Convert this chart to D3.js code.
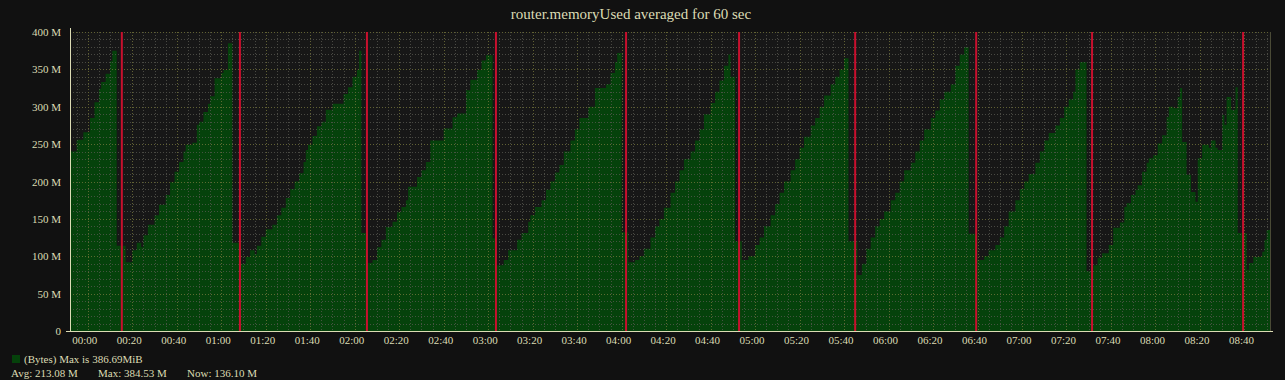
<!DOCTYPE html>
<html lang='en'>
  <head>
    <style type='text/css'>
      body {margin: 0; background-color: #111;}
      svg text {font-family: 'Liberation Serif', serif; fill: #dcdcb4;}
    </style>
  </head>
  <body>
    <svg id='chart' width='1285' height='380'></svg>

    <script src='https://cdn.jsdelivr.net/npm/d3@7'></script>
    <script type='text/javascript'>
        // minutes after 00:00 where each 60 sec average starts, and its value (M)
        var stepMinutes = [
          -8, -5, -2, 1, 3, 5, 6, 8, 10, 11, 13,
          17, 20, 22, 24, 25, 27, 30, 32, 35, 37, 39, 41, 43, 44, 47, 49, 50, 52, 54, 55, 57, 60, 61, 63, 65,
          69, 71, 73, 75, 76, 78, 80, 83, 85, 87, 89, 91, 93, 95, 97, 98, 99, 101, 103, 105, 107, 110, 115, 117, 119, 121, 122, 123,
          126, 128, 130, 132, 134, 137, 139, 141, 143, 144, 148, 150, 152, 154, 160, 164, 166, 170, 172, 175, 177, 179, 182,
          184, 187, 189, 193, 195, 198, 199, 201, 204, 206, 208, 210, 212, 214, 217, 219, 221, 225, 228, 233, 235, 237, 238, 240,
          243, 246, 248, 250, 253, 255, 257, 259, 262, 264, 266, 268, 271, 273, 275, 277, 280, 282, 284, 286, 288, 289, 291,
          294, 297, 300, 302, 304, 307, 309, 311, 313, 316, 318, 320, 322, 325, 327, 329, 331, 334, 336, 338, 340, 342,
          346, 348, 350, 352, 354, 356, 358, 361, 363, 365, 367, 370, 372, 374, 376, 379, 381, 383, 385, 388, 390, 392, 394, 396,
          400, 403, 405, 408, 410, 412, 414, 417, 419, 421, 423, 426, 428, 430, 432, 435, 437, 439, 441, 443, 444, 446, 449,
          452, 454, 456, 459, 461, 464, 466, 467, 469, 471, 472, 474, 476, 477, 479, 481, 483, 485, 486, 488, 490, 491, 492,
          494, 496, 498, 499, 501, 504, 505, 507, 508, 510, 511, 512, 514, 516, 517,
          521, 522, 524, 528, 529, 530
        ];
        var memoryUsedM = [
          240, 256, 266, 285, 306, 324, 333, 344, 361, 375, 114,
          92, 108, 118, 112, 128, 142, 155, 169, 182, 199, 213, 226, 240, 249, 252, 276, 280, 293, 304, 314, 338, 345, 349, 385, 118,
          90, 99, 108, 103, 114, 126, 136, 142, 155, 165, 178, 190, 200, 211, 226, 242, 249, 261, 274, 280, 296, 304, 317, 326, 340, 349, 375, 131,
          91, 95, 112, 122, 139, 146, 159, 166, 175, 193, 206, 215, 226, 255, 271, 286, 291, 322, 336, 349, 362, 369, 124,
          88, 95, 108, 122, 131, 146, 155, 166, 175, 189, 200, 212, 222, 240, 255, 270, 285, 300, 325, 330, 345, 360, 372, 132,
          92, 95, 100, 110, 125, 140, 150, 165, 185, 200, 215, 230, 240, 255, 270, 290, 305, 320, 335, 355, 370, 340, 120,
          95, 100, 115, 125, 140, 155, 170, 185, 200, 215, 230, 245, 260, 275, 285, 300, 315, 330, 340, 350, 365, 120,
          75, 90, 110, 125, 140, 150, 160, 175, 185, 200, 215, 225, 240, 255, 270, 285, 295, 310, 320, 330, 355, 370, 380, 130,
          95, 100, 108, 115, 125, 140, 160, 175, 190, 200, 210, 225, 240, 255, 265, 275, 285, 300, 310, 320, 350, 360, 80,
          88, 98, 104, 115, 138, 145, 166, 171, 182, 189, 195, 213, 225, 231, 235, 251, 262, 286, 300, 298, 313, 325, 253,
          209, 186, 173, 231, 249, 245, 255, 245, 242, 289, 276, 313, 296, 326, 131,
          82, 91, 99, 106, 122, 135
        ];
        // router restarts (minutes after 00:00)
        var restartMinutes = [15.3, 68.4, 125.5, 183.5, 242, 292.8, 345, 399.4, 451.5, 519.4];

        var yTicks = [0, 50, 100, 150, 200, 250, 300, 350, 400];
        var xTickLabels = ['00:00', '00:20', '00:40', '01:00', '01:20', '01:40', '02:00', '02:20', '02:40',
          '03:00', '03:20', '03:40', '04:00', '04:20', '04:40', '05:00', '05:20', '05:40', '06:00',
          '06:20', '06:40', '07:00', '07:20', '07:40', '08:00', '08:20', '08:40'];
        var windowMinutes = [-8, 531.5];

        var title = 'router.memoryUsed averaged for 60 sec';
        var legendName = '(Bytes) Max is 386.69MiB';
        var legendStats = ['Avg: 213.08 M', 'Max: 384.53 M', 'Now: 136.10 M'];

        var fg = '#dcdcb4';
        var green = '#05420b';

        var parseHM = d3.utcParse('%H:%M');
        var day0 = parseHM('00:00').getTime();
        function toTime(m) { return new Date(day0 + m * 60000); }

        var svg = d3.select('#chart');
        var plot = {left: 70, right: 1270, top: 32, bottom: 331};

        var x = d3.scaleUtc()
            .domain(windowMinutes.map(toTime))
            .range([plot.left, plot.right]);
        var y = d3.scaleLinear().domain([0, 400]).range([plot.bottom, plot.top]);

        var data = stepMinutes.map(function(m, i) { return {t: toTime(m), v: memoryUsedM[i]}; });
        data.push({t: x.domain()[1], v: memoryUsedM[memoryUsedM.length - 1]});

        // plot background
        svg.append('rect')
            .attr('x', plot.left).attr('y', plot.top)
            .attr('width', plot.right - plot.left).attr('height', plot.bottom - plot.top)
            .style('fill', '#171717');

        svg.append('clipPath').attr('id', 'clip').append('rect')
            .attr('x', plot.left).attr('y', plot.top)
            .attr('width', plot.right - plot.left).attr('height', plot.bottom - plot.top);

        // the area
        var area = d3.area()
            .curve(d3.curveStepAfter)
            .x(function(d) { return x(d.t); })
            .y0(y(0))
            .y1(function(d) { return y(d.v); });

        svg.append('path')
            .datum(data)
            .attr('clip-path', 'url(#clip)')
            .attr('d', area)
            .style('fill', green);

        // grid, drawn over the area
        var grid = svg.append('g').attr('clip-path', 'url(#clip)').style('opacity', 0.75);
        var minorY = d3.range(0, 401, 10).filter(function(v) { return v % 50; });
        var minorX = x.ticks(d3.utcMinute.every(5)).filter(function(d) { return d.getUTCMinutes() % 20; });
        var majorX = xTickLabels.map(parseHM);

        grid.selectAll('.hminor').data(minorY).enter().append('line')
            .attr('x1', plot.left).attr('x2', plot.right)
            .attr('y1', function(d) { return Math.round(y(d)) + 0.5; }).attr('y2', function(d) { return Math.round(y(d)) + 0.5; })
            .style('stroke', '#5a5a52').style('stroke-dasharray', '1,2');
        grid.selectAll('.vminor').data(minorX).enter().append('line')
            .attr('x1', function(d) { return Math.round(x(d)) + 0.5; }).attr('x2', function(d) { return Math.round(x(d)) + 0.5; })
            .attr('y1', plot.top).attr('y2', plot.bottom)
            .style('stroke', '#5a5a52').style('stroke-dasharray', '1,2');
        grid.selectAll('.hmajor').data(yTicks).enter().append('line')
            .attr('x1', plot.left).attr('x2', plot.right)
            .attr('y1', function(d) { return Math.round(y(d)) + 0.5; }).attr('y2', function(d) { return Math.round(y(d)) + 0.5; })
            .style('stroke', '#7a7a3e').style('stroke-dasharray', '1,2');
        grid.selectAll('.vmajor').data(majorX).enter().append('line')
            .attr('x1', function(d) { return Math.round(x(d)) + 0.5; }).attr('x2', function(d) { return Math.round(x(d)) + 0.5; })
            .attr('y1', plot.top).attr('y2', plot.bottom)
            .style('stroke', '#7a7a3e').style('stroke-dasharray', '1,2');

        // right border
        svg.append('line')
            .attr('x1', plot.right + 0.5).attr('x2', plot.right + 0.5)
            .attr('y1', plot.top).attr('y2', plot.bottom)
            .style('stroke', '#4a4a36');

        // restarts
        svg.selectAll('.restart').data(restartMinutes).enter().append('line')
            .attr('x1', function(d) { return x(toTime(d)); }).attr('x2', function(d) { return x(toTime(d)); })
            .attr('y1', plot.top).attr('y2', plot.bottom)
            .style('stroke', '#c8102e').style('stroke-width', 2);

        // axes
        var yAxis = svg.append('g')
            .attr('transform', 'translate(' + plot.left + ',0)')
            .call(d3.axisLeft(y).tickValues(yTicks).tickSize(0).tickPadding(9)
              .tickFormat(function(d) { return d ? d + ' M' : '0'; }));
        yAxis.select('.domain').remove();
        yAxis.selectAll('text').attr('font-size', 11).style('font-family', null);

        var xAxis = svg.append('g')
            .attr('transform', 'translate(0,' + plot.bottom + ')')
            .call(d3.axisBottom(x).tickValues(majorX).tickSize(0).tickPadding(5)
              .tickFormat(d3.utcFormat('%H:%M')));
        xAxis.select('.domain').remove();
        xAxis.selectAll('text').attr('font-size', 11).attr('dx', -3.5).style('font-family', null);

        svg.append('line')
            .attr('x1', plot.left + 0.5).attr('x2', plot.left + 0.5)
            .attr('y1', plot.top - 4).attr('y2', plot.bottom + 1)
            .style('stroke', fg);
        svg.append('line')
            .attr('x1', plot.left - 4).attr('x2', plot.right + 3)
            .attr('y1', plot.bottom + 0.5).attr('y2', plot.bottom + 0.5)
            .style('stroke', fg);

        // title
        svg.append('text')
            .attr('x', 631).attr('y', 19)
            .attr('text-anchor', 'middle')
            .attr('font-size', 15)
            .text(title);

        // legend
        svg.append('rect')
            .attr('x', 12).attr('y', 355).attr('width', 8).attr('height', 8)
            .style('fill', green);
        svg.append('text')
            .attr('x', 24).attr('y', 363)
            .attr('font-size', 11)
            .text(legendName);
        svg.selectAll('.stat').data(legendStats).enter().append('text')
            .attr('x', function(d, i) { return [11, 98, 187][i]; })
            .attr('y', 377)
            .attr('font-size', 11)
            .text(function(d) { return d; });
    </script>
  </body>
</html>
